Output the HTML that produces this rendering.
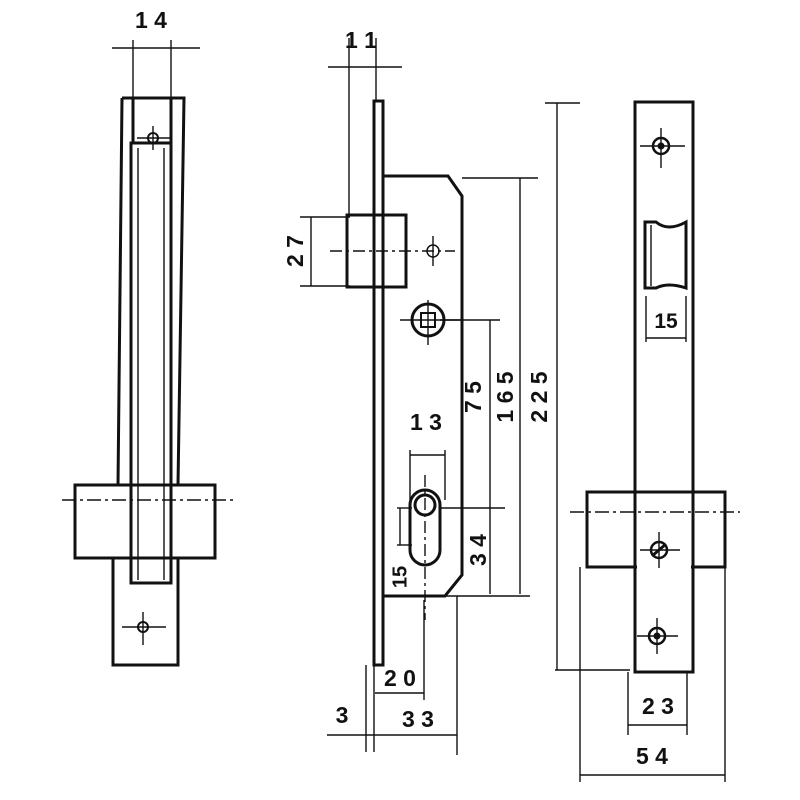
<!DOCTYPE html>
<html><head><style>body{margin:0;background:#fff}svg{display:block}</style></head><body>
<svg width="800" height="800" viewBox="0 0 800 800" xmlns="http://www.w3.org/2000/svg" font-family="Liberation Sans, sans-serif" font-weight="bold" fill="none" stroke="#111">
<!-- LEFT VIEW -->
<g stroke-width="3">
<path d="M122 98 L184 98 L178 485 M122 98 L118 485"/>
<rect x="133" y="98" width="38" height="45"/>
<rect x="131" y="143" width="40" height="440"/>
<rect x="75" y="485" width="140" height="73"/>
<path d="M113 558 L113 665 L178 665 L178 558"/>
</g>
<g stroke-width="1.4">
<line x1="138" y1="148" x2="138" y2="580"/><line x1="164" y1="148" x2="164" y2="580"/>
<line x1="133" y1="40" x2="133" y2="98"/><line x1="171" y1="40" x2="171" y2="98"/>
<line x1="112" y1="48" x2="200" y2="48"/>
<line x1="62" y1="500" x2="235" y2="500" stroke-dasharray="14 4 3 4"/>
<line x1="137" y1="138" x2="170" y2="138"/><line x1="153" y1="126" x2="153" y2="150"/>
<line x1="122" y1="627" x2="166" y2="627"/><line x1="143" y1="612" x2="143" y2="645"/>
</g>
<circle cx="153" cy="138" r="5" stroke-width="2"/>
<circle cx="143" cy="627" r="5" stroke-width="2"/>
<!-- MIDDLE VIEW -->
<g stroke-width="3">
<rect x="374" y="101" width="9" height="564"/>
<path d="M383 176 L448 176 L462 196 L462 575 L445 596 L383 596"/>
<rect x="347" y="215" width="59" height="72"/>
<line x1="374" y1="215" x2="374" y2="287"/>
<circle cx="428" cy="320" r="16"/>
<rect x="421" y="313" width="14" height="14" stroke-width="2"/>
<path d="M410 505 A15 15 0 0 1 440 505 L440 550 A15 15 0 0 1 410 550 Z"/>
<circle cx="425" cy="505" r="10"/>
</g>
<circle cx="433" cy="251" r="6" stroke-width="1.5"/>
<g stroke-width="1.4">
<line x1="330" y1="251" x2="455" y2="251" stroke-dasharray="12 4 3 4"/><line x1="433" y1="236" x2="433" y2="266"/>
<line x1="400" y1="320" x2="462" y2="320"/><line x1="428" y1="300" x2="428" y2="345"/>
<line x1="425" y1="475" x2="425" y2="620" stroke-dasharray="12 4 3 4"/>
<line x1="349" y1="38" x2="349" y2="215"/><line x1="376" y1="38" x2="376" y2="101"/>
<line x1="328" y1="67" x2="402" y2="67"/>
<line x1="300" y1="217" x2="350" y2="217"/><line x1="300" y1="286" x2="350" y2="286"/>
<line x1="311" y1="217" x2="311" y2="286"/>
<line x1="545" y1="103" x2="580" y2="103"/><line x1="557" y1="103" x2="557" y2="670"/><line x1="555" y1="670" x2="630" y2="670"/>
<line x1="462" y1="178" x2="538" y2="178"/><line x1="520" y1="178" x2="520" y2="594"/>
<line x1="383" y1="596" x2="530" y2="596"/>
<line x1="440" y1="320" x2="500" y2="320"/><line x1="490" y1="320" x2="490" y2="594"/>
<line x1="440" y1="508" x2="505" y2="508"/>
<line x1="410" y1="455" x2="445" y2="455"/><line x1="410" y1="450" x2="410" y2="500"/><line x1="445" y1="450" x2="445" y2="500"/>
<line x1="400" y1="508" x2="400" y2="545"/><line x1="397" y1="508" x2="412" y2="508"/><line x1="397" y1="545" x2="412" y2="545"/>
<line x1="366" y1="665" x2="366" y2="752"/><line x1="374" y1="665" x2="374" y2="752"/>
<line x1="424" y1="600" x2="424" y2="700"/><line x1="457" y1="596" x2="457" y2="755"/>
<line x1="375" y1="693" x2="424" y2="693"/>
<line x1="327" y1="735" x2="457" y2="735"/>
</g>
<!-- RIGHT VIEW -->
<g stroke-width="3">
<rect x="635" y="102" width="58" height="570"/>
<rect x="587" y="492" width="138" height="75"/>
<path d="M645 288 L645 222 L656 222 Q668 232 686 222 L686 288 Q668 282 656 288 Z"/>
</g>
<rect x="637" y="494" width="54" height="76" fill="#fff" stroke="none"/>
<line x1="635" y1="492" x2="635" y2="672" stroke-width="3"/><line x1="693" y1="492" x2="693" y2="672" stroke-width="3"/>
<g stroke-width="1.4">
<line x1="651" y1="225" x2="651" y2="286"/>
<line x1="646" y1="296" x2="646" y2="342"/><line x1="686" y1="296" x2="686" y2="342"/>
<line x1="646" y1="338" x2="686" y2="338"/>
<line x1="570" y1="512" x2="740" y2="512" stroke-dasharray="14 4 3 4"/>
<line x1="640" y1="146" x2="685" y2="146"/><line x1="661" y1="128" x2="661" y2="168"/>
<line x1="640" y1="550" x2="680" y2="550"/><line x1="659" y1="532" x2="659" y2="568"/>
<line x1="637" y1="636" x2="678" y2="636"/><line x1="657" y1="618" x2="657" y2="654"/>
<line x1="628" y1="672" x2="628" y2="735"/><line x1="687" y1="672" x2="687" y2="735"/>
<line x1="628" y1="725" x2="687" y2="725"/>
<line x1="580" y1="567" x2="580" y2="782"/><line x1="725" y1="567" x2="725" y2="782"/>
<line x1="580" y1="775" x2="725" y2="775"/>
</g>
<circle cx="661" cy="146" r="8" stroke-width="2.5"/><circle cx="661" cy="146" r="3" fill="#111"/>
<circle cx="659" cy="550" r="8" stroke-width="2.5"/><line x1="652" y1="556" x2="666" y2="544" stroke-width="3"/>
<circle cx="657" cy="636" r="8" stroke-width="2.5"/><circle cx="657" cy="636" r="3" fill="#111"/>
<!-- TEXT -->
<g fill="#111" stroke="none" font-size="23" text-anchor="middle">
<text x="151" y="28">1 4</text>
<text x="361" y="48">1 1</text>
<text x="297" y="251" transform="rotate(-90 297 251)" dominant-baseline="middle">2 7</text>
<text x="475" y="397" transform="rotate(-90 475 397)" dominant-baseline="middle">7 5</text>
<text x="507" y="397" transform="rotate(-90 507 397)" dominant-baseline="middle">1 6 5</text>
<text x="541" y="397" transform="rotate(-90 541 397)" dominant-baseline="middle">2 2 5</text>
<text x="426" y="430">1 3</text>
<text x="401" y="577" transform="rotate(-90 401 577)" dominant-baseline="middle" font-size="20">15</text>
<text x="480" y="550" transform="rotate(-90 480 550)" dominant-baseline="middle">3 4</text>
<text x="400" y="686">2 0</text>
<text x="342" y="723">3</text>
<text x="418" y="727">3 3</text>
<text x="666" y="328" font-size="21">15</text>
<text x="658" y="714">2 3</text>
<text x="652" y="764">5 4</text>
</g>
</svg>
</body></html>
